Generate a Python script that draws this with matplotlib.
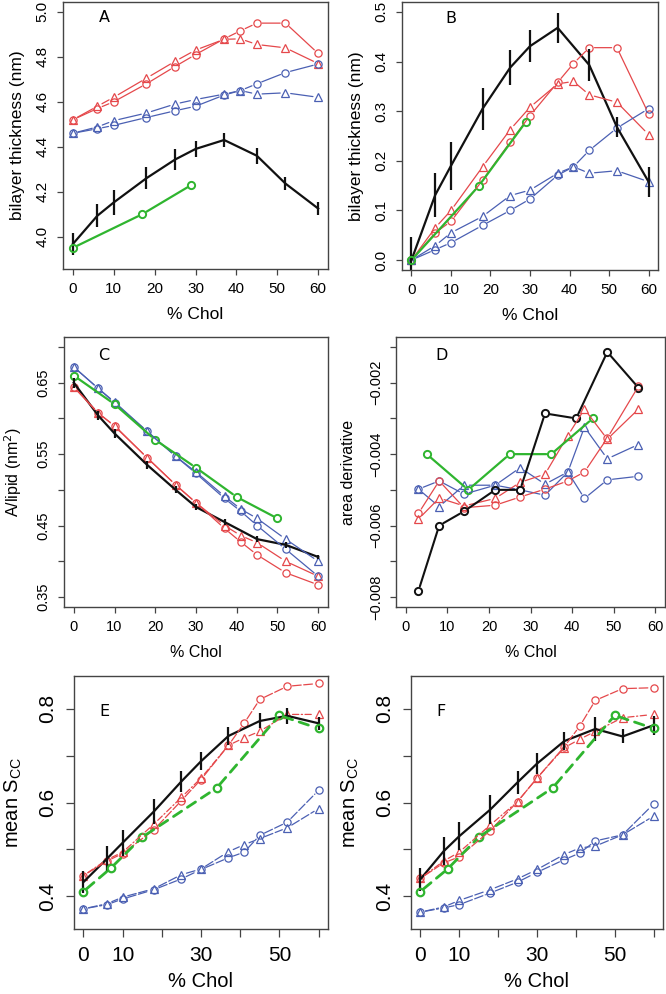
import matplotlib
matplotlib.use('Agg')
import matplotlib.pyplot as plt

plt.rcParams['font.family'] = ['Liberation Sans', 'DejaVu Sans']

# ---------------- data ----------------
x_sim = [0, 6, 10, 18, 25, 30, 37, 41, 45, 52, 60]
x_exp = [0, 6, 10, 18, 25, 30, 37, 45, 52, 60]

# Panel A
a_green_x = [0, 17, 29]
a_green = [3.95, 4.10, 4.23]
a_red_c = [4.52, 4.57, 4.60, 4.68, 4.757, 4.81, 4.88, 4.916, 4.95, 4.95, 4.815]
a_red_t = [4.52, 4.58, 4.62, 4.705, 4.78, 4.83, 4.878, 4.88, 4.855, 4.84, 4.77]
a_blue_c = [4.46, 4.48, 4.495, 4.53, 4.56, 4.58, 4.63, 4.65, 4.68, 4.73, 4.768]
a_blue_t = [4.46, 4.488, 4.516, 4.55, 4.59, 4.61, 4.634, 4.65, 4.634, 4.64, 4.62]
a_black = [3.967, 4.093, 4.152, 4.26, 4.343, 4.39, 4.43, 4.36, 4.236, 4.125]
a_black_err = [0.048, 0.05, 0.055, 0.048, 0.045, 0.035, 0.03, 0.035, 0.028, 0.03]

# Panel B
b_green_x = [0, 17, 29]
b_green = [0.0, 0.149, 0.279]
b_red_c = [0, 0.055, 0.078, 0.161, 0.238, 0.291, 0.358, 0.396, 0.428, 0.428, 0.295]
b_red_t = [0, 0.065, 0.10, 0.188, 0.263, 0.308, 0.355, 0.36, 0.333, 0.318, 0.253]
b_blue_c = [0, 0.021, 0.035, 0.07, 0.10, 0.123, 0.171, 0.188, 0.221, 0.266, 0.305]
b_blue_t = [0, 0.029, 0.055, 0.088, 0.13, 0.141, 0.175, 0.188, 0.175, 0.18, 0.158]
b_black = [0.0, 0.131, 0.19, 0.305, 0.388, 0.431, 0.468, 0.393, 0.268, 0.158]
b_black_err = [0.046, 0.044, 0.048, 0.042, 0.036, 0.032, 0.03, 0.032, 0.02, 0.03]

# Panel C
c_green_x = [0, 10, 20, 30, 40, 50]
c_green = [0.66, 0.62, 0.57, 0.531, 0.49, 0.46]
c_red_c = [0.644, 0.608, 0.589, 0.545, 0.507, 0.482, 0.446, 0.427, 0.409, 0.384, 0.367]
c_red_t = [0.644, 0.607, 0.59, 0.545, 0.507, 0.482, 0.45, 0.436, 0.426, 0.40, 0.379]
c_blue_c = [0.672, 0.642, 0.622, 0.582, 0.547, 0.523, 0.488, 0.47, 0.45, 0.417, 0.379]
c_blue_t = [0.672, 0.642, 0.623, 0.582, 0.547, 0.525, 0.491, 0.473, 0.46, 0.431, 0.40]
c_black = [0.65, 0.604, 0.579, 0.535, 0.50, 0.476, 0.455, 0.431, 0.423, 0.406]
c_black_err = [0.007, 0.006, 0.006, 0.006, 0.005, 0.004, 0.004, 0.004, 0.004, 0.003]

# Panel D
d_x = [3, 8, 14, 21.5, 27.5, 33.5, 39, 43, 48.5, 56]
d_black_x = [3, 8, 14, 21.5, 27.5, 33.5, 41, 48.5, 56]
d_black = [-0.00783, -0.006, -0.0056, -0.005, -0.005, -0.00286, -0.003, -0.00114, -0.00214]
d_green_x = [5, 15, 25, 35, 45]
d_green = [-0.004, -0.005, -0.004, -0.004, -0.003]
d_red_c = [-0.00566, -0.00475, -0.0055, -0.00543, -0.0052, -0.00498, -0.00475, -0.0045, -0.00355, -0.0021]
d_red_t = [-0.00582, -0.00523, -0.00545, -0.00524, -0.00479, -0.00456, -0.00348, -0.00274, -0.00358, -0.00274]
d_blue_c = [-0.00498, -0.00475, -0.00512, -0.00487, -0.005, -0.00515, -0.0045, -0.00524, -0.00472, -0.00462]
d_blue_t = [-0.00498, -0.00547, -0.00487, -0.00487, -0.00438, -0.00484, -0.0045, -0.00324, -0.00413, -0.00373]

# Panel E
ef_green_x = [0, 7, 15, 34, 50, 60]
e_green = [0.41, 0.46, 0.526, 0.631, 0.786, 0.758]
e_red_c = [0.444, 0.475, 0.491, 0.542, 0.604, 0.649, 0.722, 0.769, 0.82, 0.848, 0.854]
e_red_t = [0.444, 0.478, 0.494, 0.554, 0.611, 0.652, 0.722, 0.738, 0.752, 0.788, 0.788]
e_blue_c = [0.373, 0.382, 0.394, 0.414, 0.437, 0.457, 0.482, 0.494, 0.53, 0.558, 0.626]
e_blue_t = [0.373, 0.384, 0.398, 0.416, 0.446, 0.458, 0.495, 0.51, 0.523, 0.546, 0.587]
e_black = [0.43, 0.48, 0.514, 0.581, 0.645, 0.688, 0.742, 0.774, 0.785, 0.769]
e_black_err = [0.024, 0.028, 0.028, 0.026, 0.023, 0.019, 0.02, 0.016, 0.017, 0.014]

# Panel F
f_green = [0.41, 0.458, 0.526, 0.631, 0.786, 0.758]
f_red_c = [0.438, 0.471, 0.484, 0.54, 0.602, 0.652, 0.719, 0.763, 0.818, 0.843, 0.845]
f_red_t = [0.438, 0.475, 0.494, 0.552, 0.602, 0.652, 0.717, 0.735, 0.752, 0.781, 0.788]
f_blue_c = [0.366, 0.375, 0.382, 0.407, 0.43, 0.451, 0.478, 0.492, 0.518, 0.531, 0.597]
f_blue_t = [0.366, 0.377, 0.391, 0.414, 0.437, 0.457, 0.489, 0.503, 0.507, 0.531, 0.571]
f_black = [0.436, 0.496, 0.528, 0.585, 0.643, 0.683, 0.731, 0.757, 0.741, 0.765]
f_black_err = [0.025, 0.03, 0.03, 0.03, 0.025, 0.022, 0.02, 0.025, 0.015, 0.02]

# ---------------- style ----------------
RED = '#e5484b'
BLUE = '#4b60b3'
GREEN = '#2fb52f'
BLACK = '#111111'
FRAME = '#444444'

MS_C = 5.2
MS_T = 5.8

W, H = 666, 994
fig = plt.figure(figsize=(W / 100, H / 100), dpi=100)


def pos(l, r, t, b):
    return [l / W, 1 - b / H, (r - l) / W, (b - t) / H]


def gapline(ax, x, y, color, lw=0.9, ls='-', gap=3.8, marker=None, ms=MS_C, mew=0.9):
    for i in range(len(x) - 1):
        ax.annotate('', xy=(x[i + 1], y[i + 1]), xytext=(x[i], y[i]),
                    xycoords='data', textcoords='data',
                    arrowprops=dict(arrowstyle='-', color=color, lw=lw,
                                    linestyle=ls, shrinkA=gap, shrinkB=gap))
    if marker:
        ax.plot(x, y, ls='none', marker=marker, ms=ms, mfc='none', mec=color, mew=mew)


def errline(ax, x, y, err, lw=1.6):
    ax.plot(x, y, color=BLACK, lw=lw, solid_joinstyle='round')
    ax.errorbar(x, y, yerr=err, fmt='none', ecolor=BLACK, elinewidth=lw, capsize=0)


def setup(ax, ylim, yticks, ylabels, ylabel, letter, lpos, fs=10.5, lfs=11.5, big=False,
          ypad=9):
    ax.set_xlim(-2.4, 62.4)
    ax.set_ylim(*ylim)
    ax.set_yticks(yticks)
    ax.set_yticklabels(ylabels, rotation=90, va='center')
    for s in ax.spines.values():
        s.set_color(FRAME)
        s.set_linewidth(1.0)
    tl = 5.5 if big else 4.5
    ax.tick_params(axis='both', length=tl, width=0.9, color=FRAME, labelsize=fs,
                   pad=7 if big else 5)
    ax.set_xlabel('% Chol', fontsize=lfs, labelpad=5 if big else 8)
    ax.set_ylabel(ylabel, fontsize=lfs, labelpad=ypad)
    ax.text(lpos[0], lpos[1], letter, transform=ax.transAxes, fontsize=11.5,
            family=['DejaVu Sans'], ha='center', va='center')


# ---------------- Panel A ----------------
ax = fig.add_axes(pos(63, 328, 2, 269))
gapline(ax, x_sim, a_red_c, RED, marker='o')
gapline(ax, x_sim, a_red_t, RED, marker='^', ms=MS_T)
gapline(ax, x_sim, a_blue_c, BLUE, marker='o')
gapline(ax, x_sim, a_blue_t, BLUE, marker='^', ms=MS_T)
errline(ax, x_exp, a_black, a_black_err)
gapline(ax, a_green_x, a_green, GREEN, lw=1.6, gap=3.5, marker='o', mew=1.4)
ax.set_xticks([0, 10, 20, 30, 40, 50, 60])
setup(ax, (3.856, 5.044), [4.0, 4.2, 4.4, 4.6, 4.8, 5.0],
      ['4.0', '4.2', '4.4', '4.6', '4.8', '5.0'], 'bilayer thickness (nm)', 'A', (0.158, 0.943),
      fs=11, lfs=12.5, ypad=8)

# ---------------- Panel B ----------------
ax = fig.add_axes(pos(402, 658, 2, 270))
gapline(ax, x_sim, b_red_c, RED, marker='o')
gapline(ax, x_sim, b_red_t, RED, marker='^', ms=MS_T)
gapline(ax, x_sim, b_blue_c, BLUE, marker='o')
gapline(ax, x_sim, b_blue_t, BLUE, marker='^', ms=MS_T)
errline(ax, x_exp, b_black, b_black_err)
gapline(ax, b_green_x, b_green, GREEN, lw=1.6, gap=3.5, marker='o', mew=1.4)
ax.set_xticks([0, 10, 20, 30, 40, 50, 60])
setup(ax, (-0.02, 0.52), [0, 0.1, 0.2, 0.3, 0.4, 0.5],
      ['0.0', '0.1', '0.2', '0.3', '0.4', '0.5'], 'bilayer thickness (nm)', 'B', (0.19, 0.94),
      fs=11, lfs=12.5, ypad=8)

# ---------------- Panel C ----------------
ax = fig.add_axes(pos(64, 328, 337, 607))
gapline(ax, x_sim, c_red_c, RED, marker='o')
gapline(ax, x_sim, c_red_t, RED, marker='^', ms=MS_T)
gapline(ax, x_sim, c_blue_c, BLUE, marker='o')
gapline(ax, x_sim, c_blue_t, BLUE, marker='^', ms=MS_T)
gapline(ax, c_green_x, c_green, GREEN, lw=1.6, gap=3.5, marker='o', mew=1.4)
errline(ax, x_exp, c_black, c_black_err)
ax.set_xticks([0, 10, 20, 30, 40, 50, 60])
setup(ax, (0.336, 0.714), [0.35, 0.40, 0.45, 0.50, 0.55, 0.60, 0.65, 0.70],
      ['0.35', '', '0.45', '', '0.55', '', '0.65', ''], 'A/lipid (nm$^2$)', 'C', (0.152, 0.933))

# ---------------- Panel D ----------------
ax = fig.add_axes(pos(396, 665, 337, 607))
gapline(ax, d_x, d_blue_c, BLUE, marker='o')
gapline(ax, d_x, d_blue_t, BLUE, marker='^', ms=MS_T)
gapline(ax, d_x, d_red_c, RED, marker='o')
gapline(ax, d_x, d_red_t, RED, marker='^', ms=MS_T)
gapline(ax, d_green_x, d_green, GREEN, lw=1.6, gap=3.5, marker='o', mew=1.4)
gapline(ax, d_black_x, d_black, BLACK, lw=1.5, gap=3.5, marker='o', mew=1.4)
ax.set_xticks([0, 10, 20, 30, 40, 50, 60])
setup(ax, (-0.00828, -0.00072),
      [-0.008, -0.007, -0.006, -0.005, -0.004, -0.003, -0.002, -0.001],
      ['\u22120.008', '', '\u22120.006', '', '\u22120.004', '', '\u22120.002', ''],
      'area derivative', 'D', (0.171, 0.933))

# ---------------- Panel E ----------------
ax = fig.add_axes(pos(74, 328, 676, 929))
gapline(ax, x_sim, e_blue_c, BLUE, ls=(0, (7, 2)), marker='o')
gapline(ax, x_sim, e_blue_t, BLUE, ls=(0, (7, 2)), marker='^', ms=MS_T)
gapline(ax, x_sim, e_red_c, RED, ls=(0, (7, 2)), marker='o')
gapline(ax, x_sim, e_red_t, RED, ls=(0, (5, 2, 1, 2)), marker='^', ms=MS_T)
errline(ax, x_exp, e_black, e_black_err)
gapline(ax, ef_green_x, e_green, GREEN, lw=2.0, ls=(0, (3.5, 2.5)), gap=3.0, marker='o', mew=1.6, ms=5.4)
ax.set_xticks([0, 10, 20, 30, 40, 50, 60])
ax.set_xticklabels(['0', '10', '', '30', '', '50', ''])
setup(ax, (0.33, 0.87), [0.4, 0.5, 0.6, 0.7, 0.8], ['0.4', '', '0.6', '', '0.8'],
      'mean S$_{\\mathregular{CC}}$', 'E', (0.118, 0.858), fs=15, lfs=14.5, big=True, ypad=10)

# ---------------- Panel F ----------------
ax = fig.add_axes(pos(411, 663, 676, 929))
gapline(ax, x_sim, f_blue_c, BLUE, ls=(0, (7, 2)), marker='o')
gapline(ax, x_sim, f_blue_t, BLUE, ls=(0, (7, 2)), marker='^', ms=MS_T)
gapline(ax, x_sim, f_red_c, RED, ls=(0, (7, 2)), marker='o')
gapline(ax, x_sim, f_red_t, RED, ls=(0, (5, 2, 1, 2)), marker='^', ms=MS_T)
errline(ax, x_exp, f_black, f_black_err)
gapline(ax, ef_green_x, f_green, GREEN, lw=2.0, ls=(0, (3.5, 2.5)), gap=3.0, marker='o', mew=1.6, ms=5.4)
ax.set_xticks([0, 10, 20, 30, 40, 50, 60])
ax.set_xticklabels(['0', '10', '', '30', '', '50', ''])
setup(ax, (0.33, 0.87), [0.4, 0.5, 0.6, 0.7, 0.8], ['0.4', '', '0.6', '', '0.8'],
      'mean S$_{\\mathregular{CC}}$', 'F', (0.119, 0.858), fs=15, lfs=14.5, big=True, ypad=10)

fig.savefig('out.png', dpi=100, facecolor='white')
